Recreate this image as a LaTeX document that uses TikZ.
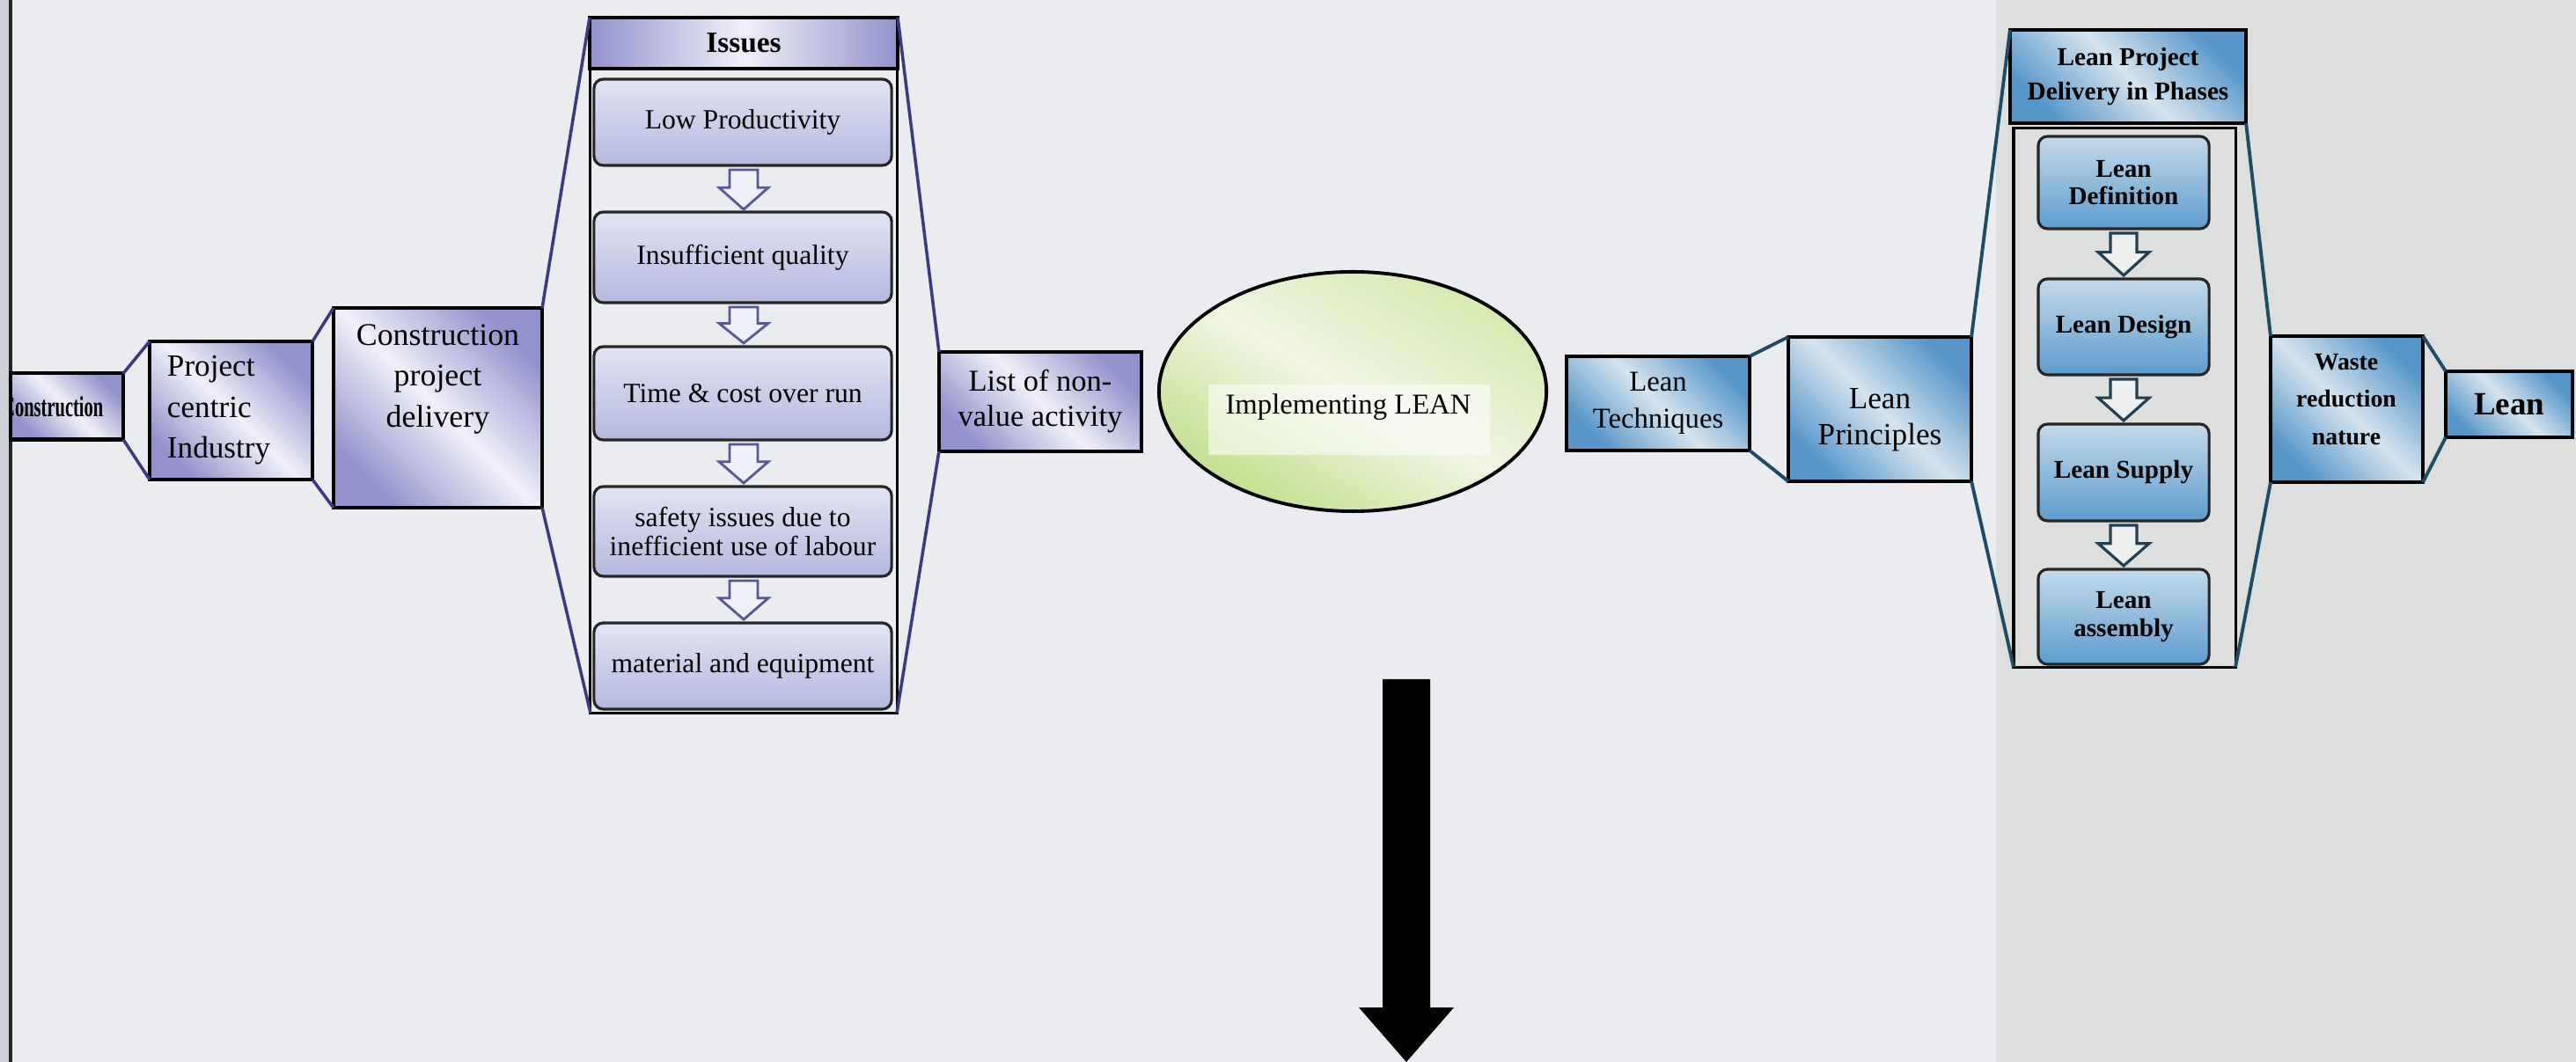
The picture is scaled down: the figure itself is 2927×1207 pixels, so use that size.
\documentclass[tikz,border=0pt]{standalone}
\usepackage{fontspec}
\usepackage{graphicx}
\setmainfont{Liberation Serif}
\usetikzlibrary{shapes.geometric}

\definecolor{pageL}{RGB}{234,236,240}
\definecolor{pageR}{RGB}{221,223,223}
\definecolor{pageEdge}{RGB}{205,208,214}
\definecolor{purpD}{RGB}{146,146,204}
\definecolor{purpL}{RGB}{240,240,249}
\definecolor{purpIn1}{RGB}{226,228,244}
\definecolor{purpIn2}{RGB}{180,184,222}
\definecolor{purpLine}{RGB}{58,58,130}
\definecolor{purpArrow}{RGB}{88,88,150}
\definecolor{blueD}{RGB}{86,150,200}
\definecolor{blueL}{RGB}{214,228,239}
\definecolor{blueIn1}{RGB}{196,218,235}
\definecolor{blueIn2}{RGB}{92,156,204}
\definecolor{tealLine}{RGB}{30,76,100}
\definecolor{tealArrow}{RGB}{34,62,80}
\definecolor{greenD}{RGB}{194,224,140}
\definecolor{greenL}{RGB}{241,245,228}

% hollow block arrow pointing down: style, centre x, shaft half width,
% head half width, top y, tip y
\newcommand{\blockdown}[6]{%
  \pgfmathsetmacro{\bdbase}{#5+0.45*(#6-#5)}%
  \draw[#1] (#2-#3,#5) -- (#2+#3,#5) -- (#2+#3,\bdbase) -- (#2+#4,\bdbase)
    -- (#2,#6) -- (#2-#4,\bdbase) -- (#2-#3,\bdbase) -- cycle;
}

\tikzset{
  box/.style={draw=black, line width=1.15pt, inner sep=0pt, outer sep=0pt, align=center},
  purpbox/.style={box, top color=purpD, bottom color=purpD, middle color=purpL, shading angle=-45},
  bluebox/.style={box, top color=blueD, bottom color=blueD, middle color=blueL, shading angle=-45},
  issuebox/.style={draw=black!85, line width=0.9pt, rounded corners=3pt, inner sep=0pt,
    outer sep=0pt, align=center, top color=purpIn1, bottom color=purpIn2,
    minimum width=3.38cm, font=\fontsize{9}{9.3}\selectfont},
  phasebox/.style={draw=black!85, line width=0.9pt, rounded corners=3pt, inner sep=0pt,
    outer sep=0pt, align=center, top color=blueIn1, bottom color=blueIn2,
    minimum width=1.94cm, font=\bfseries\fontsize{8.3}{9}\selectfont},
  frame/.style={draw=black, line width=0.9pt, inner sep=0pt, outer sep=0pt},
  purplink/.style={draw=purpLine, line width=1pt},
  teallink/.style={draw=tealLine, line width=1.1pt},
  purparrow/.style={draw=purpArrow, line width=0.8pt, fill=purpL},
  tealarrow/.style={draw=tealArrow, line width=0.9pt, fill=pageR!50!white},
  label/.style={inner sep=0pt, align=center},
}

\begin{document}
\begin{tikzpicture}[x=0.01cm, y=-0.01cm]
\useasboundingbox (0,0) rectangle (2927,1207);

% paper
\fill[pageL] (0,0) rectangle (2927,1207);
\fill[pageR] (2268,0) rectangle (2927,1207);
\fill[pageEdge] (0,0) rectangle (10,1207);
\draw[black!85, line width=1pt] (12,0) -- (12,1207);

% ---- left chain ----
\node[purpbox, minimum width=1.28cm, minimum height=0.75cm] (cons) at (76,462) {};
\begin{scope}
  \clip (cons.north west) rectangle (cons.south east);
  \node[inner sep=0pt, anchor=east, font=\bfseries\fontsize{9.4}{10}\selectfont] (constxt) at (118,462)
    {\scalebox{0.62}[1]{Construction}};
\end{scope}

\node[purpbox, minimum width=1.85cm, minimum height=1.57cm, text width=1.45cm, align=left,
      font=\fontsize{10}{13.2}\selectfont] (proj) at (262.5,466.5) {Project\\centric\\Industry};

\node[purpbox, minimum width=2.37cm, minimum height=2.27cm] (cpd) at (497.5,463.5) {};
\node[label, anchor=north, font=\fontsize{10.2}{13.2}\selectfont] (cpdtxt) at (497.5,368)
  {Construction\\project\\delivery};

% ---- issues panel ----
\node[box, minimum width=3.5cm, minimum height=0.58cm, left color=purpD, right color=purpD,
      middle color=purpL, font=\bfseries\fontsize{9.5}{10}\selectfont] (ihdr) at (845,49) {Issues};
\node[frame, minimum width=3.48cm, minimum height=7.32cm] (icont) at (845,444) {};

\node[issuebox, minimum height=0.98cm] (i1) at (844,139) {Low Productivity};
\node[issuebox, minimum height=1.03cm] (i2) at (844,292.5) {Insufficient quality};
\node[issuebox, minimum height=1.06cm] (i3) at (844,447) {Time \& cost over run};
\node[issuebox, minimum height=1.02cm] (i4) at (844,604) {safety issues due to\\inefficient use of labour};
\node[issuebox, minimum height=0.98cm] (i5) at (844,757) {material and equipment};

\blockdown{purparrow}{845}{16}{28}{193}{238}
\blockdown{purparrow}{845}{16}{28}{349}{390}
\blockdown{purparrow}{845}{16}{28}{505}{549}
\blockdown{purparrow}{845}{16}{28}{660}{704}

\node[purpbox, minimum width=2.30cm, minimum height=1.13cm, font=\fontsize{9.8}{11.4}\selectfont]
  (nva) at (1182,456.5) {List of non-\\value activity};

% ---- centre ----
\node[ellipse, draw=black, line width=1.1pt, minimum width=4.4cm, minimum height=2.72cm,
      inner sep=0pt, top color=greenD!70!white, bottom color=greenD, middle color=greenL,
      shading angle=-30] (impl) at (1537,445) {};
\fill[white, opacity=0.55] (1373,437) rectangle (1693,517);
\node[label, font=\fontsize{9.3}{10}\selectfont] (impltxt) at (1532,463) {Implementing LEAN};

\fill[black] (1571,772) -- (1625,772) -- (1625,1145) -- (1652,1145) -- (1598,1207)
  -- (1544,1145) -- (1571,1145) -- cycle;

% ---- right chain ----
\node[bluebox, minimum width=2.08cm, minimum height=1.07cm, font=\fontsize{9.3}{12}\selectfont]
  (ltech) at (1884,458.5) {Lean\\Techniques};
\node[bluebox, minimum width=2.08cm, minimum height=1.64cm] (lprin) at (2136,465) {};
\node[label, font=\fontsize{10}{11.8}\selectfont] (lprintxt) at (2136,477) {Lean\\Principles};

\node[bluebox, minimum width=2.68cm, minimum height=1.06cm, font=\bfseries\fontsize{8.3}{11}\selectfont]
  (rhdr) at (2418,87) {Lean Project\\Delivery in Phases};
\node[frame, minimum width=2.52cm, minimum height=6.12cm] (rcont) at (2414,452) {};

\node[phasebox, minimum height=1.05cm] (r1) at (2413,207.5) {Lean\\Definition};
\node[phasebox, minimum height=1.09cm] (r2) at (2413,371.5) {Lean Design};
\node[phasebox, minimum height=1.10cm] (r3) at (2413,537) {Lean Supply};
\node[phasebox, minimum height=1.08cm] (r4) at (2413,701) {Lean\\assembly};

\blockdown{tealarrow}{2413}{15}{29}{265}{313}
\blockdown{tealarrow}{2413}{15}{29}{431}{478}
\blockdown{tealarrow}{2413}{15}{29}{597}{643}

\node[bluebox, minimum width=1.73cm, minimum height=1.66cm] (waste) at (2666.5,465) {};
\node[label, font=\bfseries\fontsize{7.9}{12}\selectfont] (wastetxt) at (2666,454) {Waste\\reduction\\nature};

\node[bluebox, minimum width=1.44cm, minimum height=0.75cm, font=\bfseries\fontsize{10.5}{12}\selectfont]
  (lean) at (2851,459.5) {Lean};

% ---- connectors ----
\draw[purplink] (cons.north east) -- (proj.north west);
\draw[purplink] (cons.south east) -- (proj.south west);
\draw[purplink] (proj.north east) -- (cpd.north west);
\draw[purplink] (proj.south east) -- (cpd.south west);
\draw[purplink] (cpd.north east) -- (ihdr.north west);
\draw[purplink] (cpd.south east) -- (icont.south west);
\draw[purplink] (ihdr.north east) -- (nva.north west);
\draw[purplink] (icont.south east) -- (nva.south west);

\draw[teallink] (ltech.north east) -- (lprin.north west);
\draw[teallink] (ltech.south east) -- (lprin.south west);
\draw[teallink] (lprin.north east) -- (rhdr.north west);
\draw[teallink] (lprin.south east) -- (rcont.south west);
\draw[teallink] (rhdr.south east) -- (waste.north west);
\draw[teallink] (rcont.south east) -- (waste.south west);
\draw[teallink] (waste.north east) -- (lean.north west);
\draw[teallink] (waste.south east) -- (lean.south west);
\end{tikzpicture}
\end{document}
